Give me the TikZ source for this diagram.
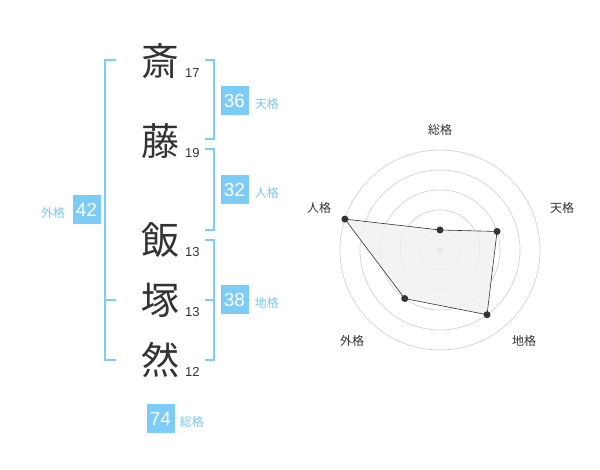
\documentclass[tikz,border=0pt]{standalone}
\usepackage{fontspec}
\setmainfont{Liberation Sans}
\newfontfamily\jpfont{Noto Sans CJK JP}
\usetikzlibrary{calc, positioning}
\definecolor{skyblue}{RGB}{125,204,248}
\definecolor{labelblue}{RGB}{125,198,240}
\definecolor{inkgray}{RGB}{51,51,51}
\definecolor{ringgray}{RGB}{210,210,210}

\begin{document}
\begin{tikzpicture}[x=1pt, y=-1pt,
    kanji/.style={font=\jpfont\fontsize{38}{38}\selectfont, text=inkgray, inner sep=0pt},
    strokes/.style={font=\fontsize{13}{13}\selectfont, text=inkgray, inner sep=0pt, anchor=base west},
    scorebox/.style={fill=skyblue, text=white, font=\fontsize{19}{19}\selectfont, minimum width=28pt, minimum height=29pt, inner sep=0pt},
    kaku/.style={font=\jpfont\fontsize{12}{12}\selectfont, text=labelblue, inner sep=0pt, yshift=-3pt},
    bracket/.style={draw=skyblue, line width=1.5pt},
    axislabel/.style={font=\jpfont\fontsize{12}{12}\selectfont, text=inkgray, inner sep=0pt}]
    \useasboundingbox (0,0) rectangle (600,470);

    % Name characters
    \node[kanji] (c1) at (160,61) {斎};
    \node[kanji] (c2) at (160,141) {藤};
    \node[kanji] (c3) at (160,240) {飯};
    \node[kanji] (c4) at (160,300) {塚};
    \node[kanji] (c5) at (160,360) {然};

    % Stroke counts
    \node[strokes] (n1) at ($(c1)+(25,16.5)$) {17};
    \node[strokes] (n2) at ($(c2)+(25,16.5)$) {19};
    \node[strokes] (n3) at ($(c3)+(25,16.5)$) {13};
    \node[strokes] (n4) at ($(c4)+(25,16.5)$) {13};
    \node[strokes] (n5) at ($(c5)+(25,16.5)$) {12};

    % Brackets
    \draw[bracket] (116,60) -| (105,360) -- (116,360);
    \draw[bracket] (105,300) -- (116,300);
    \draw[bracket] (205,60) -| (214,139) -- (205,139);
    \draw[bracket] (205,149) -| (214,230) -- (205,230);
    \draw[bracket] (205,240) -| (214,360) -- (205,360);
    \draw[bracket] (205,300) -- (214,300);

    % Scores
    \node[scorebox] (ten) at (234.5,100.5) {36};
    \node[kaku, right=6pt of ten] (tenlabel) {天格};
    \node[scorebox] (jin) at (234.5,190) {32};
    \node[kaku, right=6pt of jin] (jinlabel) {人格};
    \node[scorebox] (chi) at (234.5,300) {38};
    \node[kaku, right=6pt of chi] (chilabel) {地格};
    \node[scorebox] (gai) at (86.5,210) {42};
    \node[kaku, left=7pt of gai] (gailabel) {外格};
    \node[scorebox] (sou) at (160.5,418.5) {74};
    \node[kaku, right=5pt of sou] (soulabel) {総格};

    % Radar chart
    \coordinate (o) at (440,250);
    \foreach \r in {20,40,60,80,100}
        \draw[ringgray, line width=0.7pt] (o) circle (\r);
    \fill[ringgray] (o) circle (3.5);
    \coordinate (psou) at ($(o)+(-90:20)$);
    \coordinate (pten) at ($(o)+(-18:60)$);
    \coordinate (pchi) at ($(o)+(54:80)$);
    \coordinate (pgai) at ($(o)+(126:60)$);
    \coordinate (pjin) at ($(o)+(198:100)$);
    \draw[fill=black!6, fill opacity=0.8, draw=inkgray, line width=0.6pt] (psou) -- (pten) -- (pchi) -- (pgai) -- (pjin) -- cycle;
    \foreach \p in {psou,pten,pchi,pgai,pjin}
        \fill[inkgray] (\p) circle (3.5);

    % Axis labels
    \node[axislabel] (asou) at (440,130) {総格};
    \node[axislabel] (aten) at (562,208) {天格};
    \node[axislabel] (achi) at (524,341) {地格};
    \node[axislabel] (agai) at (352,341) {外格};
    \node[axislabel] (ajin) at (319,208) {人格};
\end{tikzpicture}
\end{document}
